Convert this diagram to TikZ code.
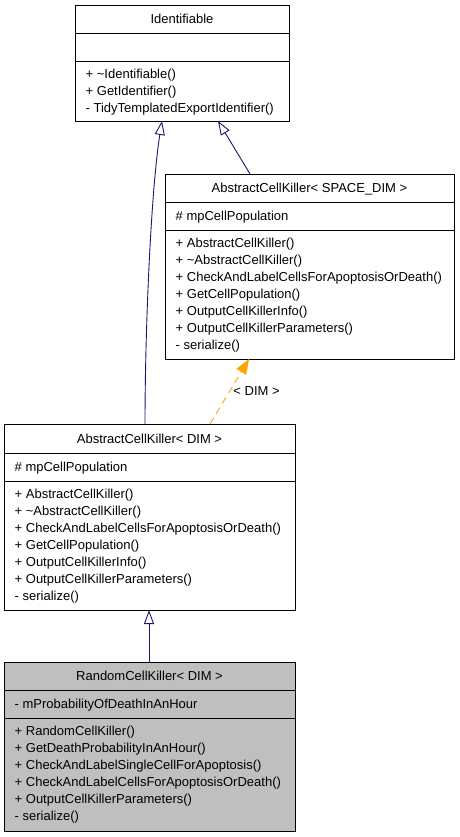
\documentclass[tikz,border=0pt]{standalone}
\usepackage{fontspec}
\setmainfont{Liberation Sans}
\usetikzlibrary{arrows.meta,calc}
\definecolor{edgeblue}{RGB}{25,25,112}
\definecolor{edgeorange}{RGB}{255,165,0}
\definecolor{boxgray}{RGB}{191,191,191}
\newcommand\classlines[4]{%
  \foreach \t [count=\i from 0] in {#4} {
    \node[txt] (#1\i) at (#2, {#3+17*\i+4.6}) {\t};
  }%
}
\begin{document}
\begin{tikzpicture}[x=1pt,y=-1pt,
  classbox/.style={draw=black, line width=0.9pt, anchor=north west, inner sep=0pt, outer sep=0pt},
  divider/.style={draw=black, line width=0.9pt},
  txt/.style={anchor=base west, inner sep=0pt, font=\fontsize{13}{15}\selectfont},
  ttl/.style={anchor=base, inner sep=0pt, font=\fontsize{13}{15}\selectfont},
  lbl/.style={inner sep=0pt, font=\fontsize{13}{15}\selectfont},
  inherit/.style={draw=edgeblue, line width=0.9pt, -{Triangle[open, length=14pt, width=10pt]}},
  tmpl/.style={draw=edgeorange, line width=0.9pt, dash pattern=on 7pt off 5pt, -{Triangle[length=15pt, width=11pt]}}]
\path[use as bounding box] (0,0) rectangle (459,837);

% Identifiable
\node[classbox, minimum width=214pt, minimum height=116pt] (ident) at (75,5) {};
\draw[divider] (ident.north west) ++(0,28) -- ++(214,0);
\draw[divider] (ident.north west) ++(0,56) -- ++(214,0);
\node[ttl] (identtitle) at (182,23.6) {Identifiable};
\classlines{identm}{85.5}{74}{+ \textasciitilde Identifiable(), + GetIdentifier(), - TidyTemplatedExportIdentifier()}

% AbstractCellKiller< SPACE_DIM >
\node[classbox, minimum width=289pt, minimum height=185pt] (spd) at (165,174) {};
\draw[divider] (spd.north west) ++(0,28) -- ++(289,0);
\draw[divider] (spd.north west) ++(0,56) -- ++(289,0);
\node[ttl] (spdtitle) at (309.5,192.6) {AbstractCellKiller< SPACE\_DIM >};
\classlines{spda}{175.5}{216}{\# mpCellPopulation}
\classlines{spdm}{175.5}{243}{+ AbstractCellKiller(), + \textasciitilde AbstractCellKiller(), + CheckAndLabelCellsForApoptosisOrDeath(), + GetCellPopulation(), + OutputCellKillerInfo(), + OutputCellKillerParameters(), - serialize()}

% AbstractCellKiller< DIM >
\node[classbox, minimum width=291pt, minimum height=186pt] (acd) at (4,424) {};
\draw[divider] (acd.north west) ++(0,29) -- ++(291,0);
\draw[divider] (acd.north west) ++(0,57) -- ++(291,0);
\node[ttl] (acdtitle) at (149.5,443.1) {AbstractCellKiller< DIM >};
\classlines{acda}{14.5}{467}{\# mpCellPopulation}
\classlines{acdm}{14.5}{494}{+ AbstractCellKiller(), + \textasciitilde AbstractCellKiller(), + CheckAndLabelCellsForApoptosisOrDeath(), + GetCellPopulation(), + OutputCellKillerInfo(), + OutputCellKillerParameters(), - serialize()}

% RandomCellKiller< DIM >
\node[classbox, fill=boxgray, minimum width=291pt, minimum height=169pt] (rck) at (4,662) {};
\draw[divider] (rck.north west) ++(0,28) -- ++(291,0);
\draw[divider] (rck.north west) ++(0,56) -- ++(291,0);
\node[ttl] (rcktitle) at (149.5,680.6) {RandomCellKiller< DIM >};
\classlines{rcka}{14.5}{704}{- mProbabilityOfDeathInAnHour}
\classlines{rckm}{14.5}{731}{+ RandomCellKiller(), + GetDeathProbabilityInAnHour(), + CheckAndLabelSingleCellForApoptosis(), + CheckAndLabelCellsForApoptosisOrDeath(), + OutputCellKillerParameters(), - serialize()}

% connectors
\draw[inherit] ([xshift=141pt]acd.north west) .. controls +(0,-95) and +(-11,69) .. ([xshift=87pt]ident.south west);
\draw[inherit] ([xshift=85pt]spd.north west) -- ([xshift=143pt]ident.south west);
\draw[tmpl] ([xshift=206pt]acd.north west) -- ([xshift=84pt]spd.south west)
  node[lbl, pos=0.5, anchor=west, xshift=3.5pt] (dimlabel) {< DIM >};
\draw[inherit] ([xshift=145pt]rck.north west) -- ([xshift=145pt]acd.south west);
\end{tikzpicture}
\end{document}
